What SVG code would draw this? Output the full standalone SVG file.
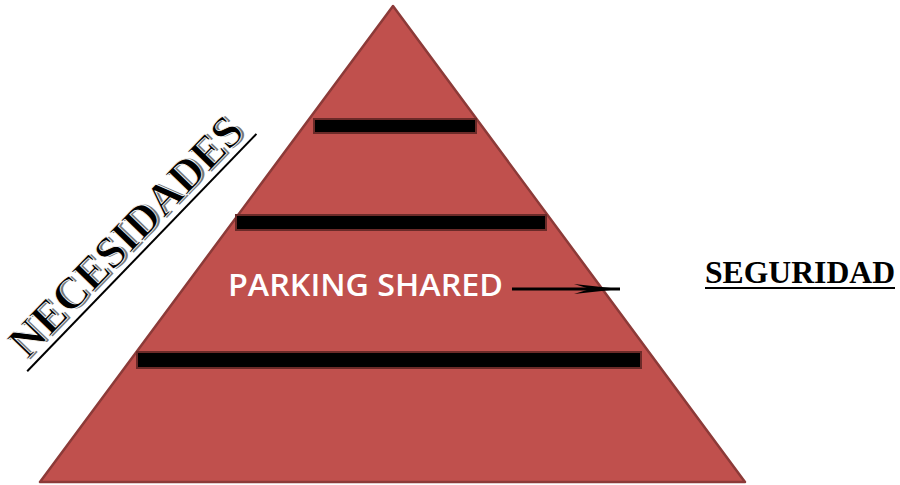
<svg xmlns="http://www.w3.org/2000/svg" width="900" height="485" viewBox="0 0 900 485">
<style>
.bar{fill:#000;stroke:#6b2a28;stroke-width:2}
.serif{font-family:"Liberation Serif","Times New Roman",serif;font-weight:bold;fill:#000}
.lbl{font-family:"Open Sans","Liberation Sans",sans-serif;font-weight:600;fill:#fff}
</style>
<defs>
<marker id="ah" viewBox="0 0 46 12" refX="46" refY="6" markerWidth="46" markerHeight="12" markerUnits="userSpaceOnUse" orient="auto">
<path d="M0,1 L46,6 L0,11 L16,6 Z" fill="#000"/>
</marker>
</defs>
<rect width="900" height="485" fill="#fff"/>
<g id="pyramid">
<polygon points="393,6 40,482 745,482" fill="#c0504d" stroke="#8c3a38" stroke-width="2.5" stroke-linejoin="round"/>
<rect class="bar" x="314" y="119" width="162" height="14"/>
<rect class="bar" x="236" y="215" width="310" height="15"/>
<rect class="bar" x="137" y="352" width="504" height="16"/>
<text class="lbl" x="228" y="296" font-size="30" textLength="275" lengthAdjust="spacingAndGlyphs">PARKING SHARED</text>
</g>
<g id="connectors">
<line x1="512" y1="289" x2="620" y2="289" stroke="#000" stroke-width="3" marker-end="url(#ah)"/>
</g>
<g id="seguridad">
<text class="serif" x="705" y="283" font-size="31" textLength="190" lengthAdjust="spacingAndGlyphs">SEGURIDAD</text>
<line x1="705" y1="288" x2="895" y2="288" stroke="#000" stroke-width="2"/>
</g>
<g id="necesidades" transform="translate(27,360) rotate(-46)">
<text class="serif" x="2" y="2" font-size="45" style="fill:#777" textLength="315" lengthAdjust="spacingAndGlyphs">NECESIDADES</text>
<text class="serif" x="0" y="0" font-size="45" stroke="#fff" stroke-width="0.8" textLength="315" lengthAdjust="spacingAndGlyphs">NECESIDADES</text>
<line x1="-8" y1="8" x2="322" y2="8" stroke="#000" stroke-width="2"/>
</g>
</svg>
